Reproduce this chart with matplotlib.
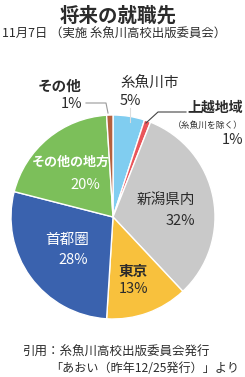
import matplotlib
matplotlib.use("Agg")
import matplotlib.pyplot as plt
from matplotlib.lines import Line2D

plt.rcParams['font.family'] = ['Noto Sans CJK JP', 'DejaVu Sans']

# データ
categories = ["糸魚川市", "上越地域", "新潟県内", "東京", "首都圏", "その他の地方", "その他"]
values = [5, 1, 32, 13, 28, 20, 1]
colors = ["#80cdf0", "#e9555a", "#c9c9c9", "#f8c13d", "#3a62ae", "#7cbf5a", "#b4603d"]

title = "将来の就職先"
subtitle = "11月7日 （実施 糸魚川高校出版委員会）"
source1 = "引用：糸魚川高校出版委員会発行"
source2 = "「あおい（昨年12/25発行）」より"

W, H = 245, 377
dark = "#2b2b2b"

fig = plt.figure(figsize=(W/100, H/100), dpi=100)

# ピクセル座標 -> 図の座標
def px(x, y):
    return x / W, 1 - y / H

# 円グラフ
cx, cy, r = 113, 217, 102
ax = fig.add_axes([(cx - r)/W, 1 - (cy + r)/H, 2*r/W, 2*r/H])
ax.pie(values, colors=colors, startangle=90, counterclock=False,
       wedgeprops=dict(edgecolor="white", linewidth=1.0), radius=1.0)
ax.set_xlim(-1, 1)
ax.set_ylim(-1, 1)
ax.set_aspect("auto")
ax.axis("off")

def txt(x, y, s, size=10.5, color=dark, weight="normal", ha="left"):
    fig.text(*px(x, y), s, fontsize=size, color=color, fontweight=weight,
             ha=ha, va="center")

def line(xs, ys, color, lw=0.8):
    pts = [px(x, y) for x, y in zip(xs, ys)]
    fig.add_artist(Line2D([p[0] for p in pts], [p[1] for p in pts],
                          color=color, linewidth=lw, transform=fig.transFigure))

# タイトル
txt(118, 16, title, size=14, weight="bold", ha="center")
txt(2, 34, subtitle, size=8.9)

# ラベル
txt(60, 86, "その他", size=10.5, weight="bold", ha="center")
txt(82, 104, "1%", size=10.5, ha="right")
line([86, 106, 108], [103, 103, 113], "#999999")

txt(120, 84, categories[0], size=10.5)
txt(120, 101, f"{values[0]}%", size=10.5)
line([130, 130], [108, 122], "#dddddd")

txt(243, 108, categories[1], size=10, weight="bold", ha="right")
txt(208, 125, "（糸魚川を除く）", size=6.3, ha="center")
txt(243, 140, f"{values[1]}%", size=10.5, ha="right")
line([186, 158, 146], [112, 112, 123], "#444444")

txt(71, 162, categories[5], size=9.4, color="white", weight="bold", ha="center")
txt(100, 185, f"{values[5]}%", size=10.5, color="white", ha="right")

txt(166, 201, categories[2], size=10.5, ha="center")
txt(195, 221, f"{values[2]}%", size=10.5, ha="right")

txt(67, 240, categories[4], size=10.5, color="white", ha="center")
txt(88, 260, f"{values[4]}%", size=10.5, color="white", ha="right")

txt(119, 271, categories[3], size=10.5, weight="bold")
txt(119, 289, f"{values[3]}%", size=10.5)

# 出典
txt(22, 352, source1, size=9.0)
txt(50, 369, source2, size=8.7)

fig.savefig("out.png", dpi=100)
